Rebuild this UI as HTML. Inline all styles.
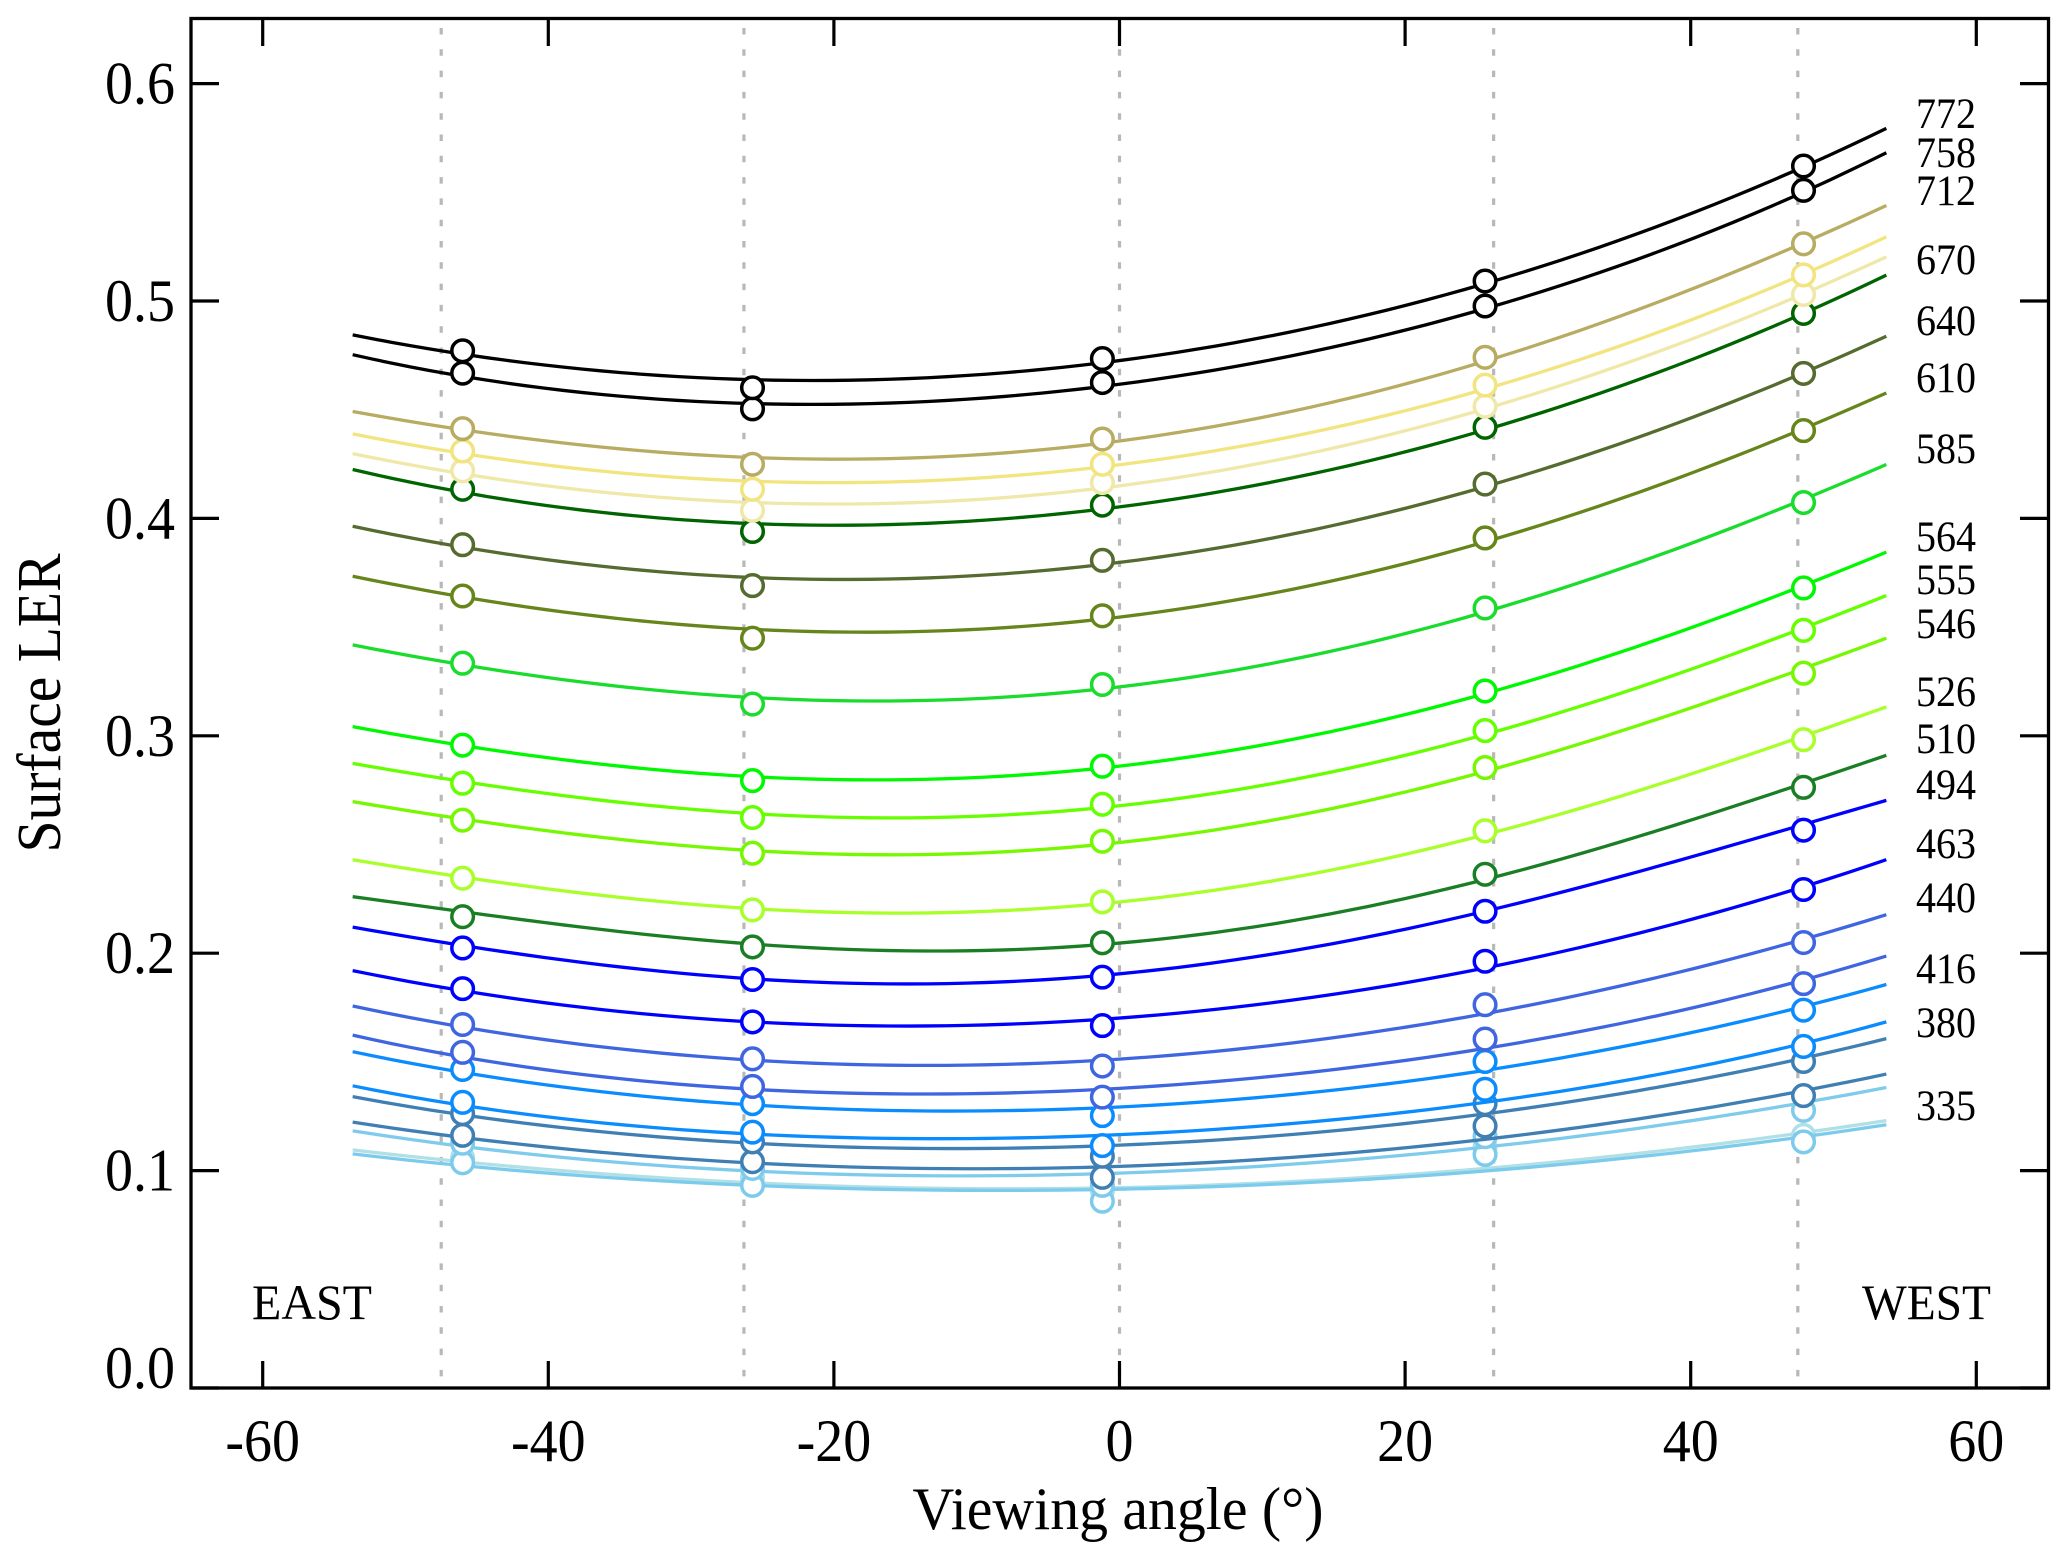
<!DOCTYPE html>
<html lang="en">
<head>
<meta charset="utf-8">
<title>Surface LER vs viewing angle</title>
<style>
  html, body { margin: 0; padding: 0; background: #fff; }
  svg { display: block; font-family: "Liberation Serif", "Times New Roman", serif; fill: #000; }
</style>
</head>
<body>
<svg id="chart" xmlns="http://www.w3.org/2000/svg" width="2067" height="1559" viewBox="0 0 2067 1559">
  <rect x="0" y="0" width="2067" height="1559" fill="#fff"/>
  <g id="guides"></g>
  <g id="series"></g>
  <rect x="191" y="18.5" width="1857.5" height="1369.5" fill="none" stroke="#000" stroke-width="3.3"/>
  <g id="ticks"></g>
  <text x="1118" y="1529" font-size="60" text-anchor="middle" textLength="411" lengthAdjust="spacingAndGlyphs">Viewing angle (°)</text>
  <text x="60" y="703" font-size="62" text-anchor="middle" textLength="299" lengthAdjust="spacingAndGlyphs" transform="rotate(-90 60 703)">Surface LER</text>
  <text x="252" y="1319" font-size="50" textLength="120" lengthAdjust="spacingAndGlyphs">EAST</text>
  <text x="1862" y="1319" font-size="50" textLength="129" lengthAdjust="spacingAndGlyphs">WEST</text>
  <g font-size="43">
    <text x="1916" y="128" textLength="60" lengthAdjust="spacingAndGlyphs">772</text>
    <text x="1916" y="167" textLength="60" lengthAdjust="spacingAndGlyphs">758</text>
    <text x="1916" y="205" textLength="60" lengthAdjust="spacingAndGlyphs">712</text>
    <text x="1916" y="274" textLength="60" lengthAdjust="spacingAndGlyphs">670</text>
    <text x="1916" y="335" textLength="60" lengthAdjust="spacingAndGlyphs">640</text>
    <text x="1916" y="392" textLength="60" lengthAdjust="spacingAndGlyphs">610</text>
    <text x="1916" y="463" textLength="60" lengthAdjust="spacingAndGlyphs">585</text>
    <text x="1916" y="551" textLength="60" lengthAdjust="spacingAndGlyphs">564</text>
    <text x="1916" y="594" textLength="60" lengthAdjust="spacingAndGlyphs">555</text>
    <text x="1916" y="638" textLength="60" lengthAdjust="spacingAndGlyphs">546</text>
    <text x="1916" y="706" textLength="60" lengthAdjust="spacingAndGlyphs">526</text>
    <text x="1916" y="753" textLength="60" lengthAdjust="spacingAndGlyphs">510</text>
    <text x="1916" y="799" textLength="60" lengthAdjust="spacingAndGlyphs">494</text>
    <text x="1916" y="858" textLength="60" lengthAdjust="spacingAndGlyphs">463</text>
    <text x="1916" y="912" textLength="60" lengthAdjust="spacingAndGlyphs">440</text>
    <text x="1916" y="983" textLength="60" lengthAdjust="spacingAndGlyphs">416</text>
    <text x="1916" y="1037" textLength="60" lengthAdjust="spacingAndGlyphs">380</text>
    <text x="1916" y="1120" textLength="60" lengthAdjust="spacingAndGlyphs">335</text>
  </g>
</svg>
<script>
const xTickValues = [-60, -40, -20, 0, 20, 40, 60];
const xTickLabels = ["-60", "-40", "-20", "0", "20", "40", "60"];
const yTickValues = [0, 0.1, 0.2, 0.3, 0.4, 0.5, 0.6];
const yTickLabels = ["0.0", "0.1", "0.2", "0.3", "0.4", "0.5", "0.6"];
const guideAngles = [-47.5, -26.3, 0, 26.2, 47.5];
const lineAngles = [-53.7, -25.7, -1.2, 25.6, 53.7];
const markerAngles = [-46.0, -25.7, -1.2, 25.6, 47.9];

const seriesColors = ["#000000","#000000","#b8ab62","#f2e47e","#efe8a8","#006400","#556b2f","#66851a","#1adc2c","#00f800","#66ff00","#76f800","#a8ff2a","#1a7f24","#0000ff","#0000ff","#3f66e0","#3f66e0","#0a8cff","#0a8cff","#3f7fb4","#3f7fb4","#7fcbec","#7ccbec","#b0e0e6"];

const lineValues = [
  [.4844,.4638,.4716,.5080,.5794],
  [.4753,.4528,.4607,.4965,.5682],
  [.4492,.4280,.4346,.4723,.5439],
  [.4389,.4171,.4237,.4595,.5295],
  [.4298,.4073,.4140,.4504,.5203],
  [.4225,.3976,.4043,.4407,.5119],
  [.3964,.3728,.3788,.4146,.4838],
  [.3734,.3490,.3537,.3892,.4577],
  [.3418,.3176,.3216,.3570,.4248],
  [.3042,.2812,.2852,.3194,.3845],
  [.2873,.2642,.2670,.3006,.3645],
  [.2697,.2472,.2501,.2836,.3449],
  [.2430,.2205,.2228,.2545,.3133],
  [.2260,.2042,.2040,.2339,.2910],
  [.2120,.1882,.1898,.2193,.2703],
  [.1920,.1684,.1696,.1932,.2430],
  [.1757,.1508,.1508,.1722,.2177],
  [.1623,.1374,.1374,.1562,.1987],
  [.1547,.1302,.1289,.1461,.1856],
  [.1390,.1168,.1162,.1314,.1684],
  [.1340,.1126,.1114,.1261,.1607],
  [.1223,.1035,.1017,.1144,.1444],
  [.1183,.0998,.0986,.1108,.1382],
  [.1077,.0932,.0913,.0998,.1211],
  [.1095,.0944,.0920,.1010,.1230]
];

const markerValues = [
  [.4771,.4601,.4735,.5092,.5621],
  [.4668,.4504,.4625,.4977,.5509],
  [.4413,.4249,.4365,.4741,.5263],
  [.4310,.4134,.4249,.4613,.5120],
  [.4219,.4037,.4165,.4516,.5030],
  [.4134,.3940,.4061,.4419,.4943],
  [.3879,.3691,.3807,.4158,.4667],
  [.3643,.3449,.3552,.3910,.4404],
  [.3334,.3146,.3236,.3588,.4073],
  [.2957,.2794,.2860,.3206,.3680],
  [.2782,.2624,.2685,.3024,.3485],
  [.2612,.2460,.2515,.2854,.3288],
  [.2345,.2199,.2236,.2563,.2982],
  [.2168,.2029,.2048,.2363,.2763],
  [.2024,.1879,.1890,.2193,.2566],
  [.1837,.1684,.1667,.1963,.2293],
  [.1672,.1514,.1481,.1763,.2049],
  [.1544,.1387,.1338,.1605,.1860],
  [.1465,.1308,.1253,.1502,.1738],
  [.1314,.1177,.1115,.1374,.1571],
  [.1262,.1132,.1066,.1308,.1502],
  [.1162,.1041,.0969,.1205,.1345],
  [.1126,.1010,.0932,.1156,.1277],
  [.1036,.0932,.0859,.1074,.1132],
  [.1059,.0968,.0907,.1108,.1162]
];

const SVG_NS = "http://www.w3.org/2000/svg";
function xScale(angle) { return 1119.5 + 14.28 * angle; }
function yScale(value) { return 1388 - 2174 * value; }
function make(tag, attrs) {
  const el = document.createElementNS(SVG_NS, tag);
  for (const key in attrs) el.setAttribute(key, attrs[key]);
  return el;
}
function smoothValue(xs, ys, x) {
  let total = 0;
  for (let i = 0; i < xs.length; i++) {
    let term = ys[i];
    for (let j = 0; j < xs.length; j++) {
      if (j !== i) term *= (x - xs[j]) / (xs[i] - xs[j]);
    }
    total += term;
  }
  return total;
}
function labelWidth(text) {
  let width = 0;
  for (const ch of text) width += ch === "-" ? 18.6 : ch === "." ? 14 : 28;
  return width;
}

const guides = document.getElementById("guides");
guideAngles.forEach(function (angle) {
  const guide = make("line", { x1: xScale(angle), x2: xScale(angle), y1: 28, y2: 1378, stroke: "#b8b8b8", "stroke-width": 3.2, "stroke-dasharray": "6.5 14.8" });
  
  
  guides.appendChild(guide);
});

const seriesGroup = document.getElementById("series");
for (let s = lineValues.length - 1; s >= 0; s--) {
  const group = make("g", {});
  
  
  const steps = 80;
  const first = lineAngles[0];
  const last = lineAngles[lineAngles.length - 1];
  let d = "";
  for (let k = 0; k <= steps; k++) {
    const a = first + (last - first) * k / steps;
    const v = smoothValue(lineAngles, lineValues[s], a);
    d += (k === 0 ? "M" : "L") + xScale(a).toFixed(2) + " " + yScale(v).toFixed(2);
  }
  const path = make("path", { d: d, fill: "none", stroke: seriesColors[s], "stroke-width": 3.3 });
  
  
  group.appendChild(path);
  markerAngles.forEach(function (angle, i) {
    const dot = make("circle", { cx: xScale(angle), cy: yScale(markerValues[s][i]), r: 10.8, fill: "#fff", stroke: seriesColors[s], "stroke-width": 3.5 });
    
    
    group.appendChild(dot);
  });
  seriesGroup.appendChild(group);
}

const ticks = document.getElementById("ticks");
xTickValues.forEach(function (value, i) {
  const x = xScale(value);
  const bottom = make("line", { x1: x, x2: x, y1: 1388, y2: 1361, stroke: "#000", "stroke-width": 3.2 });
  
  
  ticks.appendChild(bottom);
  const top = make("line", { x1: x, x2: x, y1: 18.5, y2: 46, stroke: "#000", "stroke-width": 3.2 });
  
  
  ticks.appendChild(top);
  const label = make("text", { x: x, y: 1461, "font-size": 60, "text-anchor": "middle", textLength: labelWidth(xTickLabels[i]), lengthAdjust: "spacingAndGlyphs" });
  
  
  label.textContent = xTickLabels[i];
  ticks.appendChild(label);
});
yTickValues.forEach(function (value, i) {
  const y = yScale(value);
  const left = make("line", { x1: 191, x2: 219, y1: y, y2: y, stroke: "#000", "stroke-width": 3.2 });
  
  
  ticks.appendChild(left);
  const right = make("line", { x1: 2020, x2: 2048.5, y1: y, y2: y, stroke: "#000", "stroke-width": 3.2 });
  
  
  ticks.appendChild(right);
  const label = make("text", { x: 175, y: Math.min(y + 20, 1388), "font-size": 60, "text-anchor": "end", textLength: labelWidth(yTickLabels[i]), lengthAdjust: "spacingAndGlyphs" });
  
  
  label.textContent = yTickLabels[i];
  ticks.appendChild(label);
});
</script>
</body>
</html>
